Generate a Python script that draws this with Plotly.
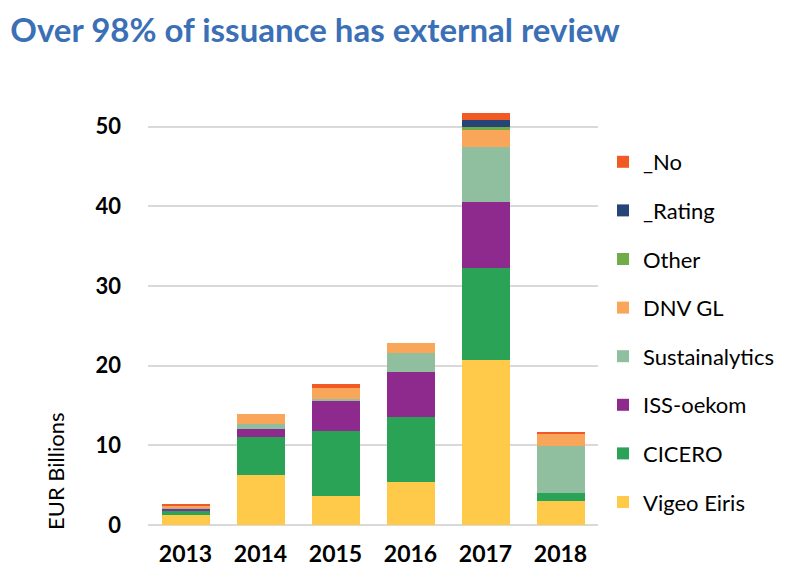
import plotly.graph_objects as go

years = ["2013", "2014", "2015", "2016", "2017", "2018"]
vigeo = [1.2, 6.3, 3.65, 5.4, 20.7, 3.0]
cicero = [0.55, 4.8, 8.15, 8.1, 11.6, 1.05]
iss = [0.3, 1.0, 3.8, 5.65, 8.3, 0.0]
sust = [0.15, 0.6, 0.2, 2.5, 6.8, 5.85]
dnv = [0.2, 1.3, 1.45, 1.15, 2.2, 1.5]
other = [0.0, 0.0, 0.0, 0.0, 0.4, 0.0]
rating = [0.0, 0.0, 0.0, 0.0, 0.85, 0.0]
no = [0.2, 0.0, 0.45, 0.0, 0.85, 0.3]
y_ticks = [0, 10, 20, 30, 40, 50]

series = [
    ("Vigeo Eiris", vigeo, "#FFC94A"),
    ("CICERO", cicero, "#2AA356"),
    ("ISS-oekom", iss, "#8E2A8E"),
    ("Sustainalytics", sust, "#8FBF9F"),
    ("DNV GL", dnv, "#F9A65A"),
    ("Other", other, "#70AD47"),
    ("_Rating", rating, "#264478"),
    ("_No", no, "#F15A24"),
]

font = "Lato, Calibri, 'Open Sans', sans-serif"
fig = go.Figure()
n = len(series)
for i, (name, vals, color) in enumerate(series):
    fig.add_trace(go.Bar(x=years, y=vals, name=name, legendgroup=name,
                         legendrank=n - i,
                         marker=dict(color=color, line=dict(width=0))))

L, T, W, H = 140, 71, 450, 446
fig.update_layout(
    barmode="stack",
    bargap=0.36,
    width=785, height=571,
    margin=dict(l=L, r=785 - L - W, t=T, b=571 - T - H, autoexpand=False),
    plot_bgcolor="white", paper_bgcolor="white",
    font=dict(family=font, color="#000000"),
    title=dict(text="<b>Over 98% of issuance has external review</b>",
               x=0.003, xanchor="left", y=0.961, yanchor="middle",
               font=dict(size=33, color="#3B6FB6", family=font)),
    legend=dict(traceorder="grouped", tracegroupgap=17,
                x=(595 - L) / W, xanchor="left", y=0.861, yanchor="top",
                font=dict(size=22, family=font, color="#000000"),
                itemwidth=30),
    xaxis=dict(tickfont=dict(size=23, family=font, color="#000000"),
               tickmode="array", tickvals=years,
               ticktext=["<b>" + y + "</b>" for y in years],
               showline=False, ticks="", ticklabelstandoff=13,
               automargin=False),
    yaxis=dict(range=[0, 56], tickmode="array", tickvals=y_ticks,
               ticktext=["<b>" + str(v) + "</b>" for v in y_ticks],
               tickfont=dict(size=22, family=font, color="#000000"),
               gridcolor="#D9D9D9", gridwidth=2, zeroline=True,
               zerolinecolor="#D9D9D9", zerolinewidth=2,
               ticklabelstandoff=26, automargin=False),
    annotations=[dict(text="EUR Billions", xref="paper", yref="paper",
                      x=(47 - L) / W, y=(T + H - 463) / H,
                      xanchor="center", yanchor="middle", textangle=-90,
                      showarrow=False,
                      font=dict(size=22, family=font, color="#000000"))],
)

fig.write_html("out.html")
